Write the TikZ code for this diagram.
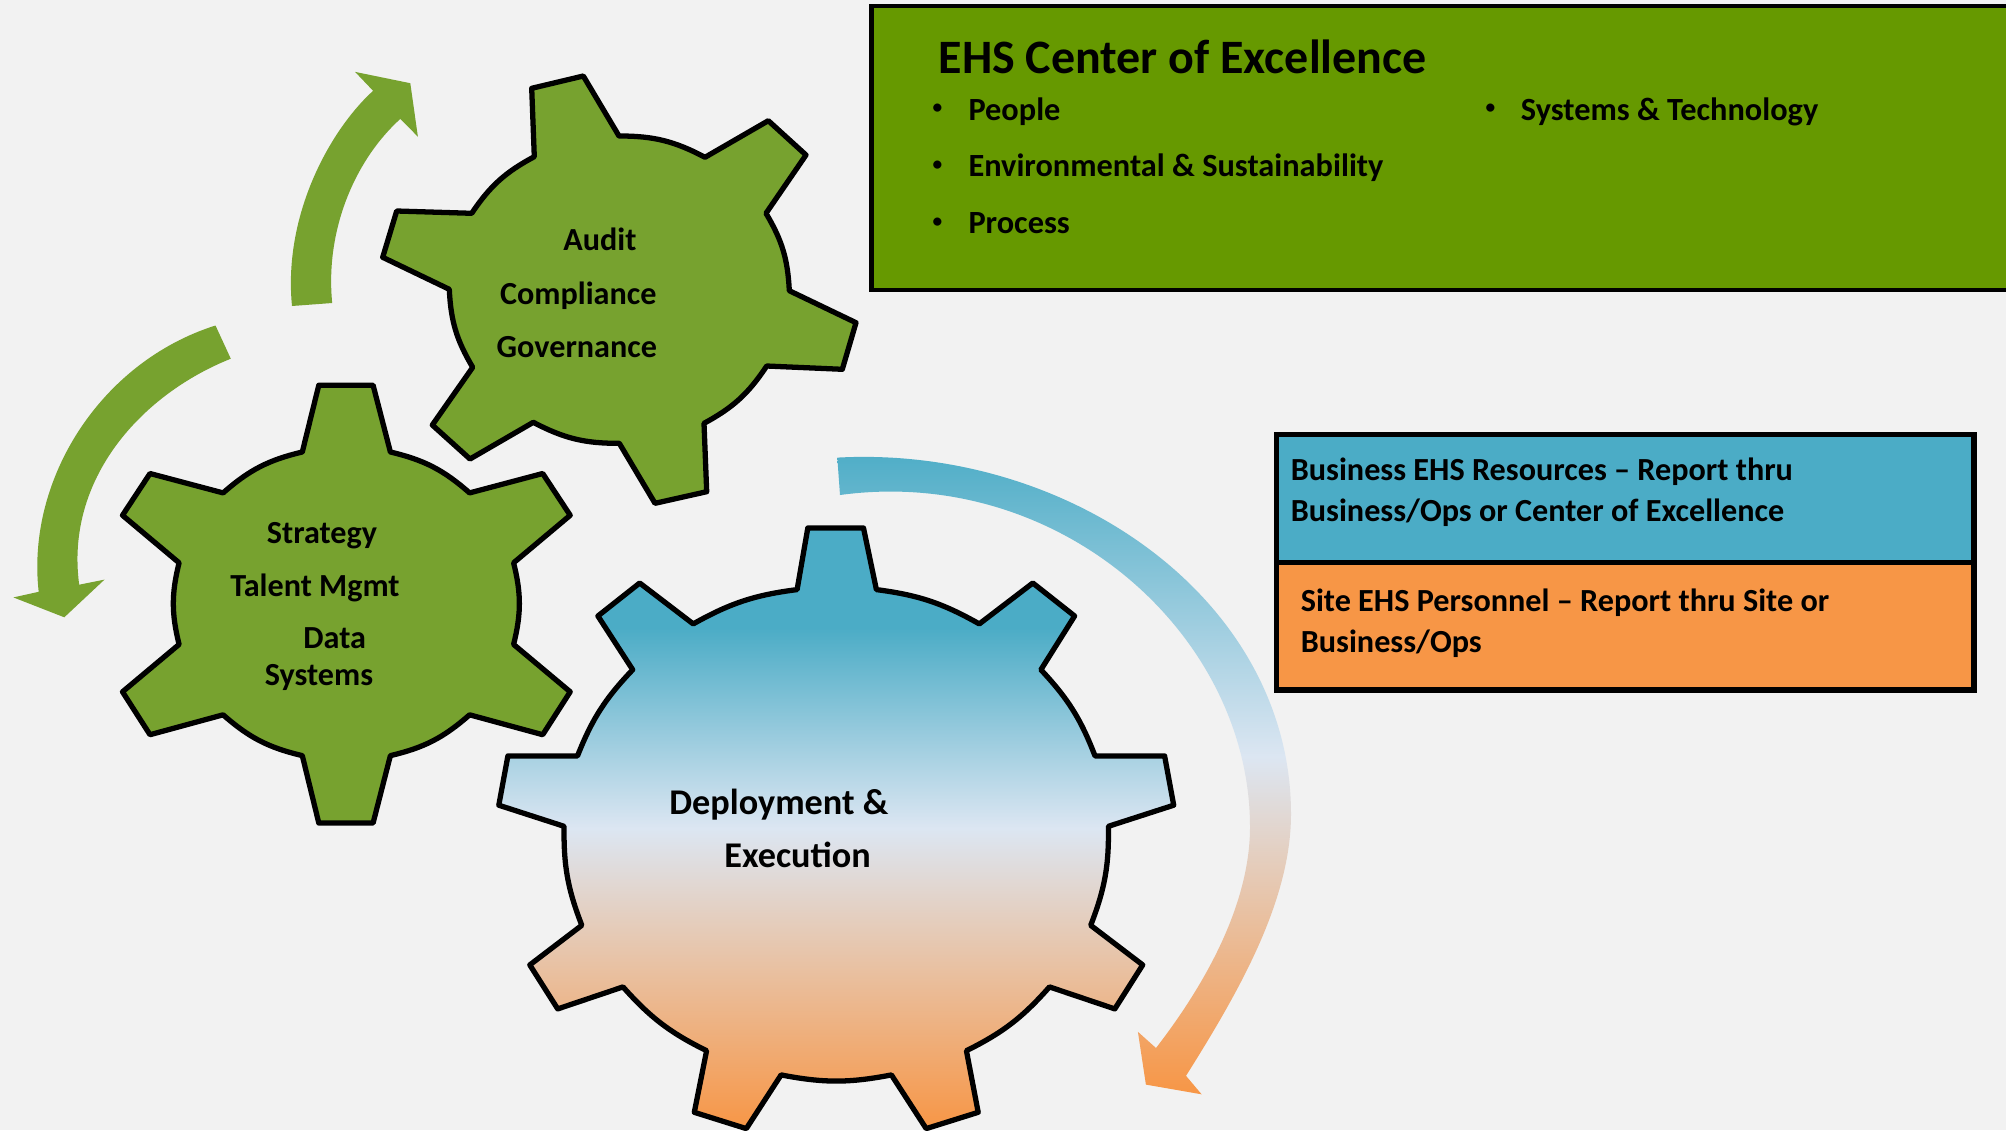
\documentclass[tikz,border=0pt]{standalone}
\usepackage{fontspec}
\setmainfont{Carlito}
\usepackage{tikz}
\usetikzlibrary{shadings, positioning}
\definecolor{ehspaper}{HTML}{F2F2F2}
\definecolor{ehsgreen}{HTML}{77A22F}
\definecolor{ehsolive}{HTML}{669900}
\definecolor{ehsblue}{HTML}{4BACC6}
\definecolor{ehspale}{HTML}{DCE6F2}
\definecolor{ehsorange}{HTML}{F79646}
% the picture's box covers 25bp to 75bp of these
\pgfdeclareverticalshading{ehsgearfade}{100bp}{color(0bp)=(ehsorange); color(25bp)=(ehsorange); color(50bp)=(ehspale); color(66.7bp)=(ehsblue); color(100bp)=(ehsblue)}
\pgfdeclareverticalshading{ehsarcfade}{100bp}{color(0bp)=(ehsorange); color(25bp)=(ehsorange); color(51bp)=(ehspale); color(75bp)=(ehsblue); color(100bp)=(ehsblue)}
\tikzset{
    gear/.style = {draw=black, line width=1.5pt, line join=round, fill=ehsgreen}, % green gears
    gearmid/.style = {draw=black, line width=1.5pt, line join=round, shading=ehsgearfade}, % the big one
    turn/.style = {fill=ehsgreen}, % green block arrows
    turnmid/.style = {shading=ehsarcfade},
    sm/.style = {bend left=14},
    lg/.style = {bend left=11},
    ehsbox/.style = {rectangle, draw=black, anchor=north west, inner sep=0pt, outer sep=0pt},
    geartext/.style = {anchor=base west, inner sep=0pt, font=\fontsize{9.15}{11}\selectfont\bfseries},
    bigtext/.style = {anchor=base west, inner sep=0pt, font=\fontsize{10.3}{12}\selectfont\bfseries},
    listtext/.style = {anchor=base west, inner sep=0pt, font=\fontsize{9.2}{11}\selectfont\bfseries},
    listdot/.style = {anchor=base west, inner sep=0pt, font=\fontsize{5.5}{6}\selectfont\bfseries},
    boxtext/.style = {anchor=north west, inner sep=0pt, align=left, font=\fontsize{9.16}{11.6}\selectfont\bfseries}
}
\begin{document}
\begin{tikzpicture}[x=0.01cm, y=-0.01cm]
    \useasboundingbox (0,0) rectangle (2006,1130);
    \fill[ehspaper] (0,0) rectangle (2006,1130);
    \clip (0,0) rectangle (2006,1130);
    % arrows
    \fill[turn] (292,306) .. controls (283,215) and (330,130) .. (373.1,90.8) -- (355.1,71.9) -- (410.3,83.2) -- (417.9,136.7) -- (400.3,118.9) .. controls (355,160) and (325,230) .. (332.2,303) -- cycle;
    \fill[turn] (215.5,325.5) .. controls (100,362) and (26,480) .. (38.7,591.8) -- (13.4,597.4) -- (64.3,617.3) -- (104.5,579.6) -- (79.2,584.7) .. controls (65,480) and (140,395) .. (230.8,358.7) -- cycle;
    \path[turnmid] (837.3,457.6) .. controls (1070,445) and (1291,600) .. (1291,814) .. controls (1291,900) and (1240,990) .. (1186,1075.8) -- (1201.6,1094.3) -- (1145.9,1084.6) -- (1137.9,1031.8) -- (1156,1048) .. controls (1220,965) and (1250,890) .. (1250,827) .. controls (1250,635) and (1060,465) .. (840,495) -- cycle;
    % gears
    \draw[gear] (531.7,88.3) -- (583.3,76) -- (619,136) to[sm] (705,157.3) -- (768.3,120.7) -- (806,155) -- (766,213.3) to[sm] (789.3,290.7) -- (856,322.7) -- (842.3,369.3) -- (766.7,366) to[sm] (704,423.3) -- (706.7,491.7) -- (655,503.3) -- (619.3,443.3) to[sm] (533.3,422.3) -- (470,459) -- (432.3,425) -- (472.7,367.3) to[sm] (449.3,289.3) -- (382.7,257.3) -- (396.7,211) -- (471.7,213.3) to[sm] (534.3,156.7) -- cycle;
    \draw[gear] (318.8,385.2) -- (373.1,385.2) -- (390.4,452) to[sm] (469.6,492.9) -- (542.7,473.5) -- (570.2,515.3) -- (513.6,562.8) to[sm] (513.6,644.4) -- (570.2,691.8) -- (542.7,734.7) -- (469.6,714.8) to[sm] (390.4,755.6) -- (373.1,823) -- (318.8,823) -- (302.3,755.6) to[sm] (223.1,714.8) -- (150,734.7) -- (122.5,691.8) -- (179.1,644.4) to[sm] (179.1,562.8) -- (122.5,515.3) -- (150,473.5) -- (223.1,492.9) to[sm] (302.3,452) -- cycle;
    \draw[gearmid] (807.8,528) -- (863.5,528) -- (876.4,589.6) to[lg] (979.3,623.9) -- (1032.8,583) -- (1074.6,616) -- (1040.9,669.7) to[lg] (1095,755.9) -- (1164.6,755.9) -- (1173.7,805.2) -- (1108.4,826.3) to[lg] (1090.7,925.3) -- (1142.7,964.9) -- (1114.8,1008.9) -- (1049.5,986.9) to[lg] (966.4,1050.7) -- (978.2,1112.3) -- (926.2,1128.6) -- (891.4,1074.9) to[lg] (781.1,1074.9) -- (746.3,1128.6) -- (694.3,1112.3) -- (706.6,1050.7) to[lg] (623,986.9) -- (557.7,1008.9) -- (529.8,964.9) -- (581.8,925.3) to[lg] (564.1,826.3) -- (498.8,805.2) -- (507.9,755.9) -- (577.5,755.9) to[lg] (632.7,669.7) -- (597.9,616) -- (639.7,583) -- (693.2,623.9) to[lg] (797.1,589.6) -- cycle;
    % gear labels
    \node[geartext] (audit) at (562.7,250.5) {Audit};
    \node[geartext] (compliance) at (499.4,304.5) {Compliance};
    \node[geartext] (governance) at (496,357.7) {Governance};
    \node[geartext] (strategy) at (266.2,543.8) {Strategy};
    \node[geartext] (talent) at (229.6,596.5) {Talent Mgmt};
    \node[geartext] (data) at (302.7,648.5) {Data};
    \node[geartext] (systems) at (264.2,685) {Systems};
    \node[bigtext] (deploy) at (668.7,814) {Deployment \&};
    \node[bigtext] (execution) at (723.7,867.8) {Execution};
    % boxes
    \node[ehsbox, fill=ehsolive, line width=1.2pt, minimum width=12cm, minimum height=2.835cm] (coe) at (871.5,6) {};
    \node[ehsbox, fill=ehsblue, line width=1.5pt, minimum width=6.97cm, minimum height=1.28cm] (business) at (1276.5,434.5) {};
    \node[ehsbox, fill=ehsorange, line width=1.5pt, minimum width=6.97cm, minimum height=1.275cm] (site) at (1276.5,562.5) {};
    \node[anchor=base west, inner sep=0pt, font=\fontsize{13.64}{15}\selectfont\bfseries] (title) at (938,73) {EHS Center of Excellence};
    \node[listdot] (dot1) at (932,113.5) {•};
    \node[listtext] (people) at (967.8,120) {People};
    \node[listdot] (dot2) at (932,170.5) {•};
    \node[listtext] (environ) at (967.8,176.5) {Environmental \& Sustainability};
    \node[listdot] (dot3) at (932,227.5) {•};
    \node[listtext] (process) at (967.8,233.5) {Process};
    \node[listdot] (dot4) at (1485,113.5) {•};
    \node[listtext] (tech) at (1520.2,120) {Systems \& Technology};
    \node[boxtext] (businesstext) at (1290.1,457.4) {Business EHS Resources – Report thru\\Business/Ops or Center of Excellence};
    \node[boxtext] (sitetext) at (1300.1,588.4) {Site EHS Personnel – Report thru Site or\\Business/Ops};
\end{tikzpicture}
\end{document}
